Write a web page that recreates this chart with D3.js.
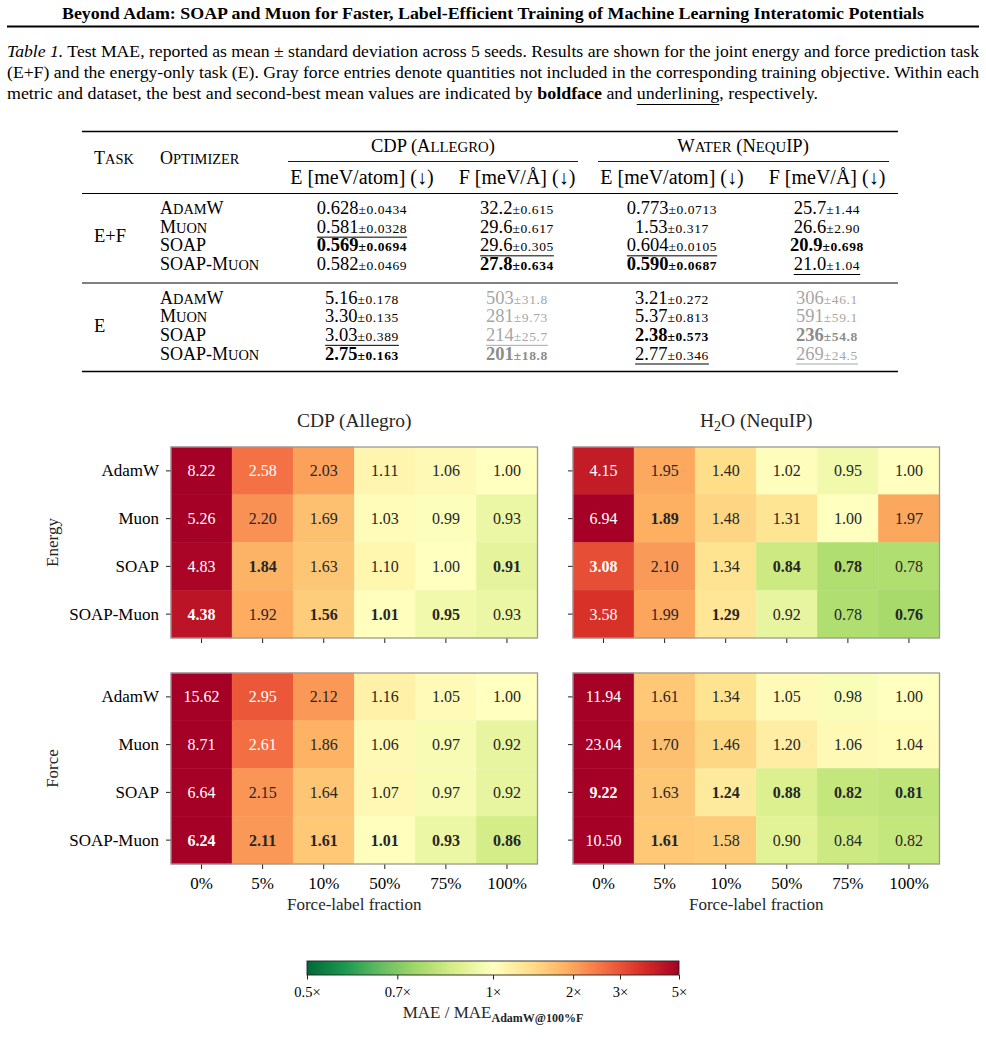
<!DOCTYPE html>
<html lang="en">
<head>
<meta charset="UTF-8"/>
<title>SOAP and Muon: table and heatmaps</title>
<script src="https://d3js.org/d3.v7.min.js"></script>
<style>
    body { margin: 0; background: #fff; }
    svg text { font-family: "Liberation Serif", "Times New Roman", serif; fill: #000; }
    .axis path { display: none; }
    .axis line { stroke: #222; stroke-width: 1px; }
</style>
</head>
<body>
<svg width="986" height="1043" font-family="Liberation Serif"></svg>
<script>
// ---------------- data ----------------
var pageTitle = "Beyond Adam: SOAP and Muon for Faster, Label-Efficient Training of Machine Learning Interatomic Potentials";

var tasks = ["E+F", "E"];
var optimizers = ["AdamW", "Muon", "SOAP", "SOAP-Muon"];
var datasets = ["CDP (Allegro)", "Water (NequIP)"];
var metrics = ["E [meV/atom] (\u2193)", "F [meV/\u00c5] (\u2193)"];

// columns: CDP E, CDP F, Water E, Water F
var efMean = [[0.628, 32.2, 0.773, 25.7], [0.581, 29.6, 1.53, 26.6], [0.569, 29.6, 0.604, 20.9], [0.582, 27.8, 0.590, 21.0]];
var efStd  = [[0.0434, 0.615, 0.0713, 1.44], [0.0328, 0.617, 0.317, 2.90], [0.0694, 0.305, 0.0105, 0.698], [0.0469, 0.634, 0.0687, 1.04]];
var eMean  = [[5.16, 503, 3.21, 306], [3.30, 281, 5.37, 591], [3.03, 214, 2.38, 236], [2.75, 201, 2.77, 269]];
var eStd   = [[0.178, 31.8, 0.272, 46.1], [0.135, 9.73, 0.813, 59.1], [0.389, 25.7, 0.573, 54.8], [0.163, 18.8, 0.346, 24.5]];
// b = best (bold), u = second best (underline)
var efRank = [["", "", "", ""], ["u", "", "", ""], ["b", "u", "u", "b"], ["", "b", "b", "u"]];
var eRank  = [["", "", "", ""], ["", "", "", ""], ["u", "u", "b", "b"], ["b", "b", "u", "u"]];
var eGrayCols = [1, 3];   // force columns not trained in the E task

// heatmaps: MAE / MAE(AdamW @ 100% F)
var fractions = ["0%", "5%", "10%", "50%", "75%", "100%"];
var cdpEnergy = [[8.22, 2.58, 2.03, 1.11, 1.06, 1.00], [5.26, 2.20, 1.69, 1.03, 0.99, 0.93], [4.83, 1.84, 1.63, 1.10, 1.00, 0.91], [4.38, 1.92, 1.56, 1.01, 0.95, 0.93]];
var h2oEnergy = [[4.15, 1.95, 1.40, 1.02, 0.95, 1.00], [6.94, 1.89, 1.48, 1.31, 1.00, 1.97], [3.08, 2.10, 1.34, 0.84, 0.78, 0.78], [3.58, 1.99, 1.29, 0.92, 0.78, 0.76]];
var cdpForce  = [[15.62, 2.95, 2.12, 1.16, 1.05, 1.00], [8.71, 2.61, 1.86, 1.06, 0.97, 0.92], [6.64, 2.15, 1.64, 1.07, 0.97, 0.92], [6.24, 2.11, 1.61, 1.01, 0.93, 0.86]];
var h2oForce  = [[11.94, 1.61, 1.34, 1.05, 0.98, 1.00], [23.04, 1.70, 1.46, 1.20, 1.06, 1.04], [9.22, 1.63, 1.24, 0.88, 0.82, 0.81], [10.50, 1.61, 1.58, 0.90, 0.84, 0.82]];
// row index of the bold (best) entry per column
var cdpEnergyBest = [3, 2, 3, 3, 3, 2];
var h2oEnergyBest = [2, 1, 3, 2, 2, 3];
var cdpForceBest  = [3, 3, 3, 3, 3, 3];
var h2oForceBest  = [2, 3, 2, 2, 2, 2];

var cbarTicks = [0.5, 0.7, 1, 2, 3, 5];

// ---------------- page ----------------
var svg = d3.select("svg");

// fake LaTeX small caps: lowercase letters -> smaller capitals
function smallCaps(t, str, size) {
    str.match(/[a-z]+|[^a-z]+/g).forEach(function(run) {
        var low = /[a-z]/.test(run[0]);
        t.append("tspan").style("font-size", (low ? size * 0.8 : size) + "px")
            .text(low ? run.toUpperCase() : run);
    });
    return t;
}

svg.append("text")
    .attr("x", 493).attr("y", 19)
    .attr("text-anchor", "middle")
    .attr("textLength", 862).attr("lengthAdjust", "spacingAndGlyphs")
    .style("font-size", "16.5px").style("font-weight", "bold")
    .text(pageTitle);
svg.append("line").attr("x1", 7).attr("x2", 979).attr("y1", 26.5).attr("y2", 26.5)
    .attr("stroke", "#000").attr("stroke-width", 1.8);

// caption
var cap1 = svg.append("text").attr("x", 7).attr("y", 57)
    .attr("textLength", 972).attr("lengthAdjust", "spacingAndGlyphs").style("font-size", "16px");
cap1.append("tspan").style("font-style", "italic").text("Table 1.");
cap1.append("tspan").text(" Test MAE, reported as mean \u00b1 standard deviation across 5 seeds. Results are shown for the joint energy and force prediction task");

svg.append("text").attr("x", 7).attr("y", 78)
    .attr("textLength", 972).attr("lengthAdjust", "spacingAndGlyphs").style("font-size", "16px")
    .text("(E+F) and the energy-only task (E). Gray force entries denote quantities not included in the corresponding training objective. Within each");

var cap3 = svg.append("text").attr("x", 7).attr("y", 99)
    .attr("textLength", 811).attr("lengthAdjust", "spacingAndGlyphs").style("font-size", "16px");
var pre3 = "metric and dataset, the best and second-best mean values are indicated by ";
cap3.append("tspan").text(pre3);
cap3.append("tspan").style("font-weight", "bold").text("boldface");
cap3.append("tspan").text(" and ");
cap3.append("tspan").text("underlining");
cap3.append("tspan").text(", respectively.");
(function() {
    var n = cap3.node();
    var i0 = (pre3 + "boldface and ").length;
    var i1 = i0 + "underlining".length - 1;
    var xa = n.getStartPositionOfChar(i0).x, xb = n.getEndPositionOfChar(i1).x;
    svg.append("line").attr("x1", xa).attr("x2", xb).attr("y1", 104.5).attr("y2", 104.5)
        .attr("stroke", "#000").attr("stroke-width", 1);
})();

// ---------------- table ----------------
var tbl = svg.append("g");
var colX = [362, 517, 672, 827];
var fmt3 = d3.format(".3r");
var rowPos = d3.scalePoint().domain(optimizers).range([0, 56]);
var groupTop = [208, 297.5];

function rule(y, x1, x2, w) {
    tbl.append("line").attr("x1", x1).attr("x2", x2).attr("y1", y).attr("y2", y)
        .attr("stroke", "#000").attr("stroke-width", w);
}
rule(131.5, 82, 898, 1.6);
rule(161.5, 288, 578, 0.9);
rule(161.5, 598, 889, 0.9);
rule(193.5, 82, 898, 1);
rule(283, 82, 898, 1);
rule(371.5, 82, 898, 1.6);

smallCaps(tbl.append("text").attr("x", 94).attr("y", 164), "Task", 18);
smallCaps(tbl.append("text").attr("x", 160).attr("y", 164), "Optimizer", 18);
datasets.forEach(function(d, i) {
    smallCaps(tbl.append("text").attr("x", i === 0 ? 433 : 743).attr("y", 152)
        .attr("text-anchor", "middle"), d, 18.5);
    metrics.forEach(function(m, j) {
        tbl.append("text").attr("x", colX[2 * i + j]).attr("y", 184)
            .attr("text-anchor", "middle").style("font-size", "20px")
            .text(m);
    });
});

[[efMean, efStd, efRank], [eMean, eStd, eRank]].forEach(function(grp, gi) {
    var y0 = groupTop[gi];
    tbl.append("text").attr("x", 94).attr("y", y0 + 28 + 6)
        .style("font-size", "18.5px").text(tasks[gi]);
    optimizers.forEach(function(opt, r) {
        var y = y0 + rowPos(opt) + 6;
        smallCaps(tbl.append("text").attr("x", 160).attr("y", y), opt, 18);
        colX.forEach(function(cx, c) {
            var rank = grp[2][r][c];
            var gray = gi === 1 && eGrayCols.indexOf(c) >= 0;
            var t = tbl.append("text").attr("x", cx).attr("y", y)
                .attr("text-anchor", "middle")
                .style("font-weight", rank === "b" ? "bold" : "normal");
            t.append("tspan").style("font-size", "18.5px").text(fmt3(grp[0][r][c]));
            t.append("tspan").style("font-size", "13.5px").style("letter-spacing", "0.6px")
                .text("\u00b1" + fmt3(grp[1][r][c]));
            t.selectAll("tspan").style("fill", gray ? (rank === "b" ? "#8c8c8c" : "#a6a6a6") : "#000");
            if (rank === "u") {
                var bb = t.node().getBBox();
                tbl.append("line").attr("x1", bb.x).attr("x2", bb.x + bb.width)
                    .attr("y1", y + 4.5).attr("y2", y + 4.5)
                    .attr("stroke", gray ? "#a6a6a6" : "#000").attr("stroke-width", 1);
            }
        });
    });
});

// ---------------- heatmaps ----------------
var rdylgn = ["#a50026", "#d73027", "#f46d43", "#fdae61", "#fee08b", "#ffffbf",
              "#d9ef8b", "#a6d96a", "#66bd63", "#1a9850", "#006837"];
var cmap = d3.scaleLinear().domain(d3.range(11).map(function(i) { return i / 10; }))
    .range(rdylgn).interpolate(d3.interpolateRgb);
var norm = d3.scaleLog().domain([0.5, 1, 5]).range([1, 0.5, 0]).clamp(true);
function color(v) { return cmap(norm(v)); }

var panels = [
    { data: cdpEnergy, best: cdpEnergyBest, x0: 171, y0: 447, left: true,  bottom: false },
    { data: h2oEnergy, best: h2oEnergyBest, x0: 573, y0: 447, left: false, bottom: false },
    { data: cdpForce,  best: cdpForceBest,  x0: 171, y0: 673, left: true,  bottom: true },
    { data: h2oForce,  best: h2oForceBest,  x0: 573, y0: 673, left: false, bottom: true }
];
var pw = 366.5, ph = 191;

panels.forEach(function(p) {
    var x = d3.scaleBand().domain(fractions).range([p.x0, p.x0 + pw]);
    var y = d3.scaleBand().domain(optimizers).range([p.y0, p.y0 + ph]);
    var g = svg.append("g");
    var cells = [];
    p.data.forEach(function(row, r) {
        row.forEach(function(v, c) { cells.push({ r: r, c: c, v: v }); });
    });
    g.selectAll("rect.cell").data(cells).enter().append("rect")
        .attr("class", "cell")
        .attr("x", function(d) { return x(fractions[d.c]); })
        .attr("y", function(d) { return y(optimizers[d.r]); })
        .attr("width", x.bandwidth()).attr("height", y.bandwidth())
        .attr("fill", function(d) { return color(d.v); })
        .attr("stroke", function(d) { return color(d.v); }).attr("stroke-width", 0.5);
    g.selectAll("text.val").data(cells).enter().append("text")
        .attr("class", "val")
        .attr("x", function(d) { return x(fractions[d.c]) + x.bandwidth() / 2; })
        .attr("y", function(d) { return y(optimizers[d.r]) + y.bandwidth() / 2; })
        .attr("dy", "0.34em")
        .attr("text-anchor", "middle")
        .style("font-size", "16px")
        .style("font-weight", function(d) { return p.best[d.c] === d.r ? "bold" : "normal"; })
        .style("fill", function(d) { return d.v > 2.5 ? "#fff" : "#262626"; })
        .text(function(d) { return d.v.toFixed(2); });
    g.append("rect").attr("x", p.x0).attr("y", p.y0).attr("width", pw).attr("height", ph)
        .attr("fill", "none").attr("stroke", "#9a9a9a").attr("stroke-width", 1.3);

    var ya = g.append("g").attr("class", "axis").attr("transform", "translate(" + (p.x0 - 0.5) + ",0)")
        .call(d3.axisLeft(y).tickSize(4.5).tickPadding(7));
    ya.selectAll("text").style("font-size", "17px").style("font-family", "Liberation Serif").attr("fill", "#262626");
    if (!p.left) ya.selectAll("text").remove();

    var xa = g.append("g").attr("class", "axis").attr("transform", "translate(0," + (p.y0 + ph + 0.5) + ")")
        .call(d3.axisBottom(x).tickSize(4.5).tickPadding(8));
    xa.selectAll("text").style("font-size", "17px").style("font-family", "Liberation Serif").attr("fill", "#262626");
    if (!p.bottom) xa.selectAll("text").remove();
    else {
        g.append("text").attr("x", p.x0 + pw / 2).attr("y", p.y0 + ph + 46)
            .attr("text-anchor", "middle").style("font-size", "17px").style("fill", "#262626")
            .text("Force-label fraction");
    }
});

// panel titles
svg.append("text").attr("x", 171 + pw / 2).attr("y", 427).attr("text-anchor", "middle")
    .style("font-size", "19.5px").style("fill", "#262626").text("CDP (Allegro)");
var h2o = svg.append("text").attr("x", 573 + pw / 2).attr("y", 427).attr("text-anchor", "middle")
    .style("font-size", "19.5px").style("fill", "#262626");
h2o.append("tspan").text("H");
h2o.append("tspan").attr("dy", 4).style("font-size", "14px").text("2");
h2o.append("tspan").attr("dy", -4).text("O (NequIP)");

// row-group labels
[["Energy", 447], ["Force", 673]].forEach(function(l) {
    svg.append("text")
        .attr("transform", "translate(58," + (l[1] + ph / 2) + ") rotate(-90)")
        .attr("text-anchor", "middle").style("font-size", "17px").style("fill", "#262626")
        .text(l[0]);
});

// ---------------- colorbar ----------------
var cx = d3.scaleLog().domain([0.5, 1, 5]).range([307, 493, 679]);
var grad = svg.append("defs").append("linearGradient").attr("id", "cbar")
    .attr("x1", "0%").attr("x2", "100%");
d3.range(0, 1.0001, 0.02).forEach(function(t) {
    grad.append("stop").attr("offset", (t * 100) + "%").attr("stop-color", cmap(1 - t));
});
svg.append("rect").attr("x", 307).attr("y", 961).attr("width", 372).attr("height", 14)
    .attr("fill", "url(#cbar)").attr("stroke", "#222").attr("stroke-width", 0.9);
var ca = svg.append("g").attr("class", "axis").attr("transform", "translate(0,975)")
    .call(d3.axisBottom(cx).tickValues(cbarTicks).tickSize(4.5).tickPadding(7)
        .tickFormat(function(d) { return d + "\u00d7"; }));
ca.selectAll("text").style("font-size", "14.5px").style("font-family", "Liberation Serif").attr("fill", "#262626");

var cl = svg.append("text").attr("x", 493).attr("y", 1018).attr("text-anchor", "middle")
    .style("font-size", "17px").style("fill", "#262626");
cl.append("tspan").text("MAE / MAE");
cl.append("tspan").attr("dy", 4).style("font-size", "12px").style("font-weight", "bold").text("AdamW@100%F");
</script>
</body>
</html>
